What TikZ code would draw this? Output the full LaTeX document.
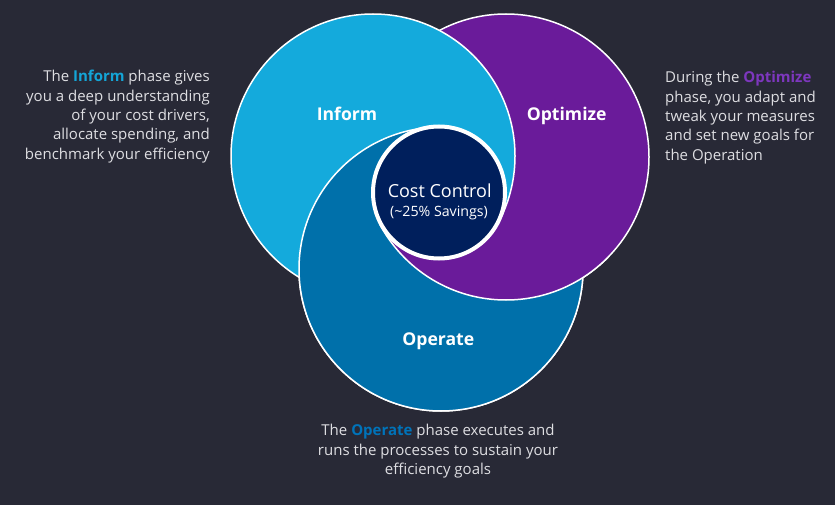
\documentclass[tikz,border=0pt]{standalone}
\usepackage{fontspec}
\setmainfont{Open Sans}

\definecolor{bgdark}{RGB}{40,41,54}
\definecolor{informblue}{RGB}{20,170,220}
\definecolor{optimizepurple}{RGB}{106,27,154}
\definecolor{operateblue}{RGB}{0,112,170}
\definecolor{corenavy}{RGB}{0,31,92}
\definecolor{bodytext}{RGB}{222,222,226}
\definecolor{informtext}{RGB}{20,165,215}
\definecolor{optimizetext}{RGB}{125,55,190}
\definecolor{operatetext}{RGB}{0,115,185}

\tikzset{
    phasedisk/.style={draw=white, line width=1.5pt},
    phaselabel/.style={text=white, font=\fontsize{17.6}{20}\selectfont\bfseries, anchor=base},
    sidetext/.style={text=bodytext, font=\fontsize{15}{19.3}\selectfont, inner sep=0pt},
}

\begin{document}
\begin{tikzpicture}[x=1pt, y=1pt]
    % Background (fixes the page size)
    \useasboundingbox (0,0) rectangle (835,-505);
    \fill[bgdark] (0,0) rectangle (835,-505);

    % Centres of the core and of the three phases
    \coordinate (hub) at (439,-192.5);
    \coordinate (informc) at (373,-156);
    \coordinate (optimizec) at (506,-157);
    \coordinate (operatec) at (441,-269);

    % Base layer: Inform over Optimize over Operate
    \filldraw[phasedisk, fill=operateblue] (operatec) circle[radius=142pt];
    \filldraw[phasedisk, fill=optimizepurple] (optimizec) circle[radius=143pt];
    \filldraw[phasedisk, fill=informblue] (informc) circle[radius=142pt];

    % Operate comes over Inform on the left and bottom
    \begin{scope}
        \clip (hub) -- ++(91.5:600pt) arc[start angle=91.5, end angle=331, radius=600pt] -- cycle;
        \filldraw[phasedisk, fill=operateblue] (operatec) circle[radius=142pt];
    \end{scope}

    % Optimize comes over Operate on the lower right
    \begin{scope}
        \clip (hub) -- ++(207.9:600pt) arc[start angle=207.9, end angle=339, radius=600pt] -- cycle;
        \filldraw[phasedisk, fill=optimizepurple] (optimizec) circle[radius=143pt];
    \end{scope}

    % Core
    \node[circle, draw=white, line width=4pt, fill=corenavy, minimum size=132pt, inner sep=0pt] (core) at (hub) {};
    \node[text=white, font=\fontsize{18}{20}\selectfont, anchor=base] (costlabel) at (439.7,-197.3) {Cost Control};
    \node[text=white, font=\fontsize{14.2}{16}\selectfont, anchor=base] (savingslabel) at (439,-216.7) {(\textasciitilde25\% Savings)};

    % Phase names
    \node[phaselabel] (informlabel) at (347,-121) {Inform};
    \node[phaselabel] (optimizelabel) at (566.7,-121) {Optimize};
    \node[phaselabel] (operatelabel) at (438.3,-345) {Operate};

    % Notes
    \node[sidetext, align=right, anchor=north east] (informnote) at (210,-70.3)
        {The {\color{informtext}\bfseries Inform} phase gives\\ you a deep understanding\\ of your cost drivers,\\ allocate spending, and\\ benchmark your efficiency};
    \node[sidetext, align=left, anchor=north west] (optimizenote) at (665,-71.3)
        {During the {\color{optimizetext}\bfseries Optimize}\\ phase, you adapt and\\ tweak your measures\\ and set new goals for\\ the Operation};
    \node[sidetext, align=center, anchor=north] (operatenote) at (438,-424.3)
        {The {\color{operatetext}\bfseries Operate} phase executes and\\ runs the processes to sustain your\\ efficiency goals};
\end{tikzpicture}
\end{document}
